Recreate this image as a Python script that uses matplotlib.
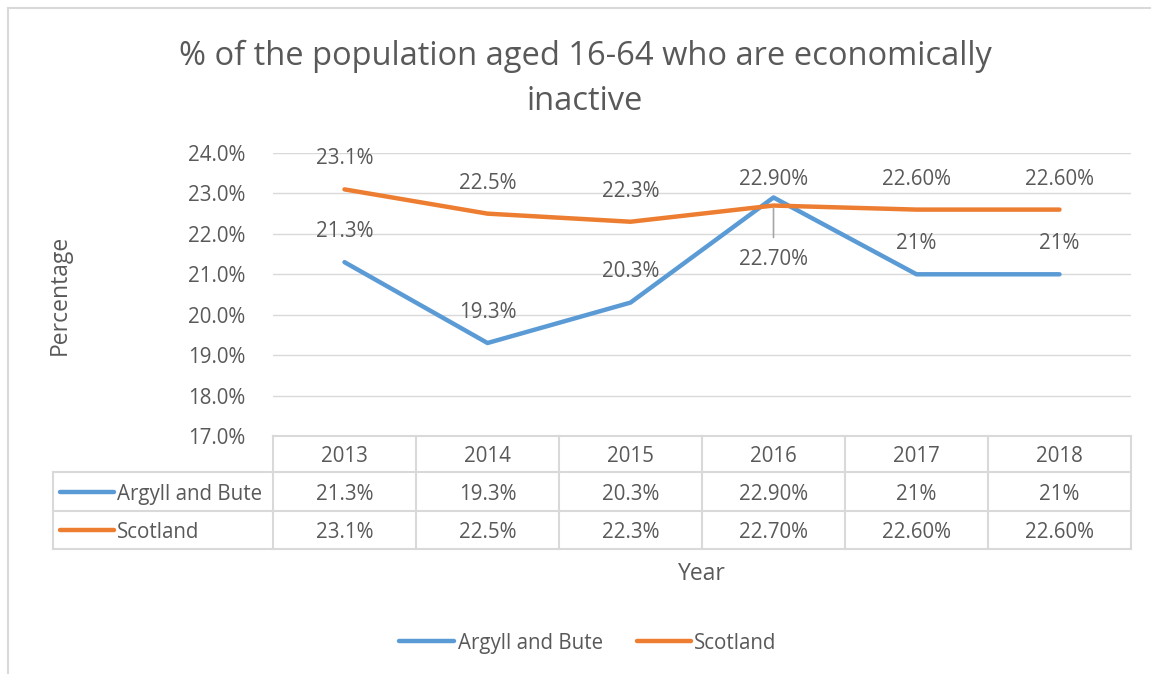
import matplotlib.pyplot as plt
from matplotlib.lines import Line2D
from matplotlib.transforms import blended_transform_factory

plt.rcParams['font.family'] = ['Open Sans', 'DejaVu Sans']

years = ['2013', '2014', '2015', '2016', '2017', '2018']
argyll = [21.3, 19.3, 20.3, 22.9, 21.0, 21.0]
scotland = [23.1, 22.5, 22.3, 22.7, 22.6, 22.6]
argyll_labels = ['21.3%', '19.3%', '20.3%', '22.90%', '21%', '21%']
scotland_labels = ['23.1%', '22.5%', '22.3%', '22.70%', '22.60%', '22.60%']
series_names = ['Argyll and Bute', 'Scotland']

# label offsets in pixels (layout only)
argyll_off = [33, 33, 34, 20, 33, 33]
scotland_off = [33, 33, 33, -51, 33, 33]

BLUE = '#5B9BD5'
ORANGE = '#ED7D31'
TXT = '#595959'
GRID = '#D9D9D9'
FS = 14.8

W, H = 1153, 674
fig = plt.figure(figsize=(W / 100, H / 100), dpi=100)
ax = fig.add_axes([273 / W, 1 - 436 / H, (1131 - 273) / W, (436 - 153) / H])

x = list(range(len(years)))
ax.plot(x, argyll, color=BLUE, lw=3.2, solid_capstyle='round', zorder=3)
ax.plot(x, scotland, color=ORANGE, lw=3.2, solid_capstyle='round', zorder=3)
ax.set_xlim(-0.5, len(years) - 0.5)
ax.set_ylim(17, 24)
ax.set_yticks([17, 18, 19, 20, 21, 22, 23, 24])
ax.set_yticklabels([f'{v:.1f}%' for v in range(17, 25)])
ax.tick_params(axis='y', length=0, pad=20, labelsize=FS, labelcolor=TXT)
ax.set_xticks([])
ax.grid(axis='y', color=GRID, lw=1)
for s in ax.spines.values():
    s.set_visible(False)
ax.set_axisbelow(True)

for xi, v, lab, off in zip(x, argyll, argyll_labels, argyll_off):
    ax.annotate(lab, (xi, v), xytext=(0, off * 0.72), textcoords='offset points',
                ha='center', va='center_baseline', fontsize=FS, color=TXT)
for xi, v, lab, off in zip(x, scotland, scotland_labels, scotland_off):
    ax.annotate(lab, (xi, v), xytext=(0, off * 0.72), textcoords='offset points',
                ha='center', va='center_baseline', fontsize=FS, color=TXT)
# leader line for the 2016 Scotland label
ax.annotate('', (3, scotland[3]), xytext=(0, -23), textcoords='offset points',
            arrowprops=dict(arrowstyle='-', color='#A6A6A6', lw=1.2, shrinkA=0, shrinkB=2))

# data table below the axes
tr = blended_transform_factory(ax.transData, fig.transFigure)
ft = fig.transFigure
rows = [436, 472, 511, 549]
fy = lambda p: 1 - p / H
lc = '#D9D9D9'
fig.add_artist(Line2D([273 / W, 1131 / W], [fy(rows[0])] * 2, color=lc, lw=1.5, transform=ft))
for r in rows[1:]:
    fig.add_artist(Line2D([53 / W, 1131 / W], [fy(r)] * 2, color=lc, lw=1.5, transform=ft))
for xb in [i - 0.5 for i in range(len(years) + 1)]:
    fig.add_artist(Line2D([xb, xb], [fy(rows[0]), fy(rows[3])], color=lc, lw=1.5, transform=tr))
fig.add_artist(Line2D([53 / W] * 2, [fy(rows[1]), fy(rows[3])], color=lc, lw=1.5, transform=ft))

for xi, yr, a, s in zip(x, years, argyll_labels, scotland_labels):
    fig.text(xi, fy(454), yr, transform=tr, ha='center', va='center_baseline', fontsize=FS, color=TXT)
    fig.text(xi, fy(492), a, transform=tr, ha='center', va='center_baseline', fontsize=FS, color=TXT)
    fig.text(xi, fy(530), s, transform=tr, ha='center', va='center_baseline', fontsize=FS, color=TXT)

for name, col, yc in zip(series_names, [BLUE, ORANGE], [492, 530]):
    fig.add_artist(Line2D([60 / W, 114 / W], [fy(yc)] * 2, color=col, lw=3.2,
                          solid_capstyle='round', transform=ft))
    fig.text(117 / W, fy(yc), name, ha='left', va='center_baseline', fontsize=FS, color=TXT)

# axis titles
fig.text(702 / W, fy(571), 'Year', ha='center', va='center_baseline', fontsize=16.5, color=TXT)
fig.text(60 / W, fy(295), 'Percentage', ha='center', va='center', rotation=90,
         fontsize=16.5, color=TXT)

# title
fig.text(585 / W, fy(52), '% of the population aged 16-64 who are economically',
         ha='center', va='center_baseline', fontsize=23.5, color=TXT)
fig.text(585 / W, fy(98), 'inactive', ha='center', va='center_baseline', fontsize=23.5, color=TXT)

# legend
for name, col, x0, x1, tx in zip(series_names, [BLUE, ORANGE], [399, 637], [454, 691], [458, 694]):
    fig.add_artist(Line2D([x0 / W, x1 / W], [fy(641)] * 2, color=col, lw=3.2,
                          solid_capstyle='round', transform=ft))
    fig.text(tx / W, fy(641), name, ha='left', va='center_baseline', fontsize=FS, color=TXT)

# chart frame
fig.add_artist(Line2D([8 / W, 8 / W], [0, fy(8)], color=lc, lw=1.5, transform=ft))
fig.add_artist(Line2D([8 / W, 1150 / W], [fy(8)] * 2, color=lc, lw=1.5, transform=ft))

fig.savefig('out.png', dpi=100, facecolor='white')
